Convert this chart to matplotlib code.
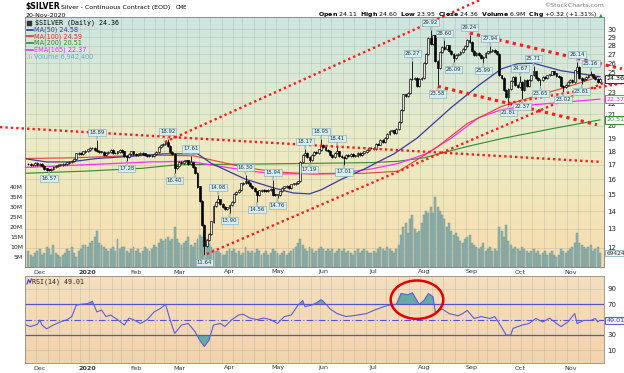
import numpy as np
import pandas as pd
import matplotlib
matplotlib.use("Agg")
import matplotlib.pyplot as plt
import matplotlib.transforms as mtransforms
from matplotlib.colors import LinearSegmentedColormap
from matplotlib.patches import Ellipse, Rectangle
from matplotlib.lines import Line2D
from matplotlib.ticker import FixedLocator, NullLocator

plt.rcParams['font.family'] = 'DejaVu Sans'

# ---- trading days (CME holidays removed) ----
holidays = ['2019-11-28', '2019-12-25', '2020-01-01', '2020-01-20', '2020-02-17',
            '2020-04-10', '2020-05-25', '2020-07-03', '2020-09-07']
dates = pd.bdate_range('2019-11-25', '2020-11-20')
dates = dates[~dates.isin(pd.to_datetime(holidays))]

# ---- daily closes ----
close_nov19 = [17.05, 16.95, 16.98, 17.10]
close_dec19 = [16.95, 17.05, 16.90, 16.72, 16.65, 16.62, 16.70, 16.85, 16.90, 16.95, 17.00,
               17.05, 17.05, 17.15, 17.20, 17.25, 17.40, 17.80, 17.85, 17.80, 17.95]
close_jan = [18.00, 18.10, 18.25, 18.20, 18.05, 18.00, 17.95, 17.90, 17.70, 17.85, 17.90,
             18.05, 17.85, 17.85, 17.95, 18.05, 17.95, 17.60, 17.55, 17.75, 17.95]
close_feb = [17.75, 17.70, 17.75, 17.85, 17.80, 17.70, 17.65, 17.60, 17.60, 17.75, 17.90,
             18.30, 18.45, 18.55, 18.65, 18.40, 17.90, 17.75, 16.75]
close_mar = [16.90, 17.20, 17.10, 17.25, 17.30, 17.05, 17.15, 16.85, 16.40, 15.50, 14.60,
             13.20, 12.10, 12.40, 12.70, 13.40, 14.30, 14.55, 14.70, 14.40, 14.25, 14.15]
close_apr = [14.20, 14.35, 14.55, 15.05, 15.15, 15.30, 15.70, 15.75, 15.85, 15.75, 15.55,
             15.40, 15.20, 14.95, 15.25, 15.30, 15.25, 15.20, 15.30, 15.35, 15.00]
close_may = [14.95, 15.00, 15.20, 15.40, 15.50, 15.55, 15.45, 15.65, 15.70, 15.75, 15.85,
             17.20, 17.70, 17.85, 17.55, 17.35, 17.70, 17.90, 17.85, 18.10]
close_jun = [18.45, 18.30, 18.05, 18.00, 17.70, 17.55, 17.85, 17.95, 17.60, 17.55, 17.45,
             17.70, 17.60, 17.75, 17.60, 17.65, 17.85, 17.70, 17.85, 17.95, 18.05, 18.20]
close_jul = [18.20, 18.15, 18.55, 18.50, 18.85, 18.70, 19.00, 19.30, 19.55, 19.60, 19.45,
             19.75, 20.35, 21.40, 22.80, 22.65, 22.95, 24.30, 24.35, 24.45, 23.60, 24.35]
close_aug = [24.40, 26.00, 27.00, 28.90, 28.20, 29.20, 26.20, 25.50, 27.20, 27.80, 27.60,
             28.00, 27.40, 27.00, 26.60, 26.90, 27.00, 27.20, 27.60, 27.90, 28.60]
close_sep = [28.40, 27.40, 26.90, 27.10, 26.90, 26.60, 26.70, 27.10, 27.30, 27.40, 27.50,
             27.30, 27.00, 24.70, 24.40, 23.20, 22.60, 23.30, 24.10, 24.50, 23.70]
close_oct = [23.50, 24.00, 23.20, 24.20, 23.60, 24.20, 24.70, 25.10, 24.40, 24.20, 24.20,
             24.50, 24.40, 24.70, 24.80, 25.10, 24.90, 24.60, 24.50, 23.60, 23.50, 23.70]
close_nov = [24.00, 24.20, 24.00, 25.20, 25.60, 24.40, 24.20, 24.30, 24.50, 24.70, 24.80,
             24.50, 24.30, 24.04, 24.36]

# ---- daily volume (millions) ----
vol_nov19 = [8, 6, 5, 7]
vol_dec19 = [8, 9, 6, 7, 10, 9, 6, 11, 7, 6, 5, 6, 7, 9, 8, 10, 7, 5, 8, 9, 11]
vol_jan = [11, 10, 12, 13, 15, 18, 12, 11, 10, 9, 8, 9, 10, 8, 14, 9, 10, 10, 8, 7, 9]
vol_feb = [10, 8, 9, 7, 8, 10, 9, 8, 9, 11, 10, 12, 14, 13, 14, 15, 13, 14, 20]
vol_mar = [14, 12, 11, 12, 13, 15, 11, 10, 12, 14, 16, 15, 18, 14, 12, 10, 9, 8, 8, 7, 6, 6]
vol_apr = [8, 9, 8, 9, 7, 8, 6, 7, 10, 8, 7, 8, 7, 9, 8, 6, 7, 8, 6, 7, 9]
vol_may = [8, 7, 6, 7, 8, 6, 7, 8, 9, 10, 12, 14, 11, 9, 8, 10, 9, 7, 8, 9]
vol_jun = [10, 9, 8, 9, 8, 9, 7, 8, 9, 8, 9, 7, 8, 7, 6, 8, 9, 7, 8, 9, 8, 7]
vol_jul = [7, 8, 7, 9, 10, 9, 8, 10, 9, 8, 7, 9, 11, 16, 20, 22, 17, 24, 26, 19, 17, 18]
vol_aug = [22, 26, 28, 27, 30, 27, 35, 30, 28, 26, 24, 20, 22, 18, 16, 17, 15, 13, 12, 14, 15]
vol_sep = [16, 12, 11, 10, 9, 10, 12, 8, 9, 10, 8, 9, 8, 20, 18, 15, 21, 13, 11, 9, 10]
vol_oct = [9, 8, 10, 9, 8, 7, 8, 9, 7, 8, 6, 7, 8, 6, 7, 8, 6, 5, 6, 9, 8, 7]
vol_nov = [8, 9, 10, 12, 17, 12, 11, 10, 9, 10, 11, 8, 9, 10, 6.94]

# ---- labelled highs / lows (trading-day index, value) ----
hi_idx = [30, 61, 71, 83, 95, 107, 121, 128, 135, 168, 176, 182, 193, 202, 215, 221, 240, 246]
hi_val = [18.89, 18.92, 17.61, 14.98, 16.30, 15.94, 18.17, 18.95, 18.41, 26.27, 29.92, 28.60,
          29.24, 27.94, 24.67, 25.71, 26.14, 25.16]
lo_idx = [9, 43, 64, 77, 88, 100, 109, 123, 138, 179, 186, 199, 210, 216, 224, 234, 242]
lo_val = [16.57, 17.28, 16.40, 11.64, 13.90, 14.56, 14.76, 17.19, 17.01, 23.58, 26.09, 25.99,
          21.81, 22.37, 23.65, 23.02, 23.81]

# ---- overlays (sparse readings) ----
ma50_idx = [-2, 8, 18, 30, 44, 60, 74, 80, 95, 108, 116, 123, 128, 137, 147, 160, 170, 185,
            197, 207, 214, 221, 233, 248, 250]
ma50_val = [17.45, 17.2, 17.2, 17.45, 17.6, 17.8, 17.8, 17.1, 16.0, 15.4, 15.1, 15.05, 15.3,
            16.0, 16.7, 17.8, 19.0, 21.6, 23.7, 25.4, 25.95, 26.0, 25.2, 24.65, 24.58]
ma100_idx = [-2, 20, 51, 72, 95, 108, 125, 147, 162, 178, 192, 207, 221, 235, 250]
ma100_val = [17.45, 17.5, 17.7, 17.65, 16.8, 16.5, 16.35, 16.4, 16.55, 18.2, 20.2, 21.7, 22.6,
             23.5, 24.59]
ma200_idx = [-2, 25, 50, 65, 100, 150, 162, 173, 192, 208, 230, 250]
ma200_val = [16.4, 16.55, 16.75, 17.0, 17.05, 17.15, 17.25, 17.5, 18.35, 19.0, 19.8, 20.51]
ema165_idx = [-2, 25, 53, 70, 95, 108, 135, 150, 162, 174, 185, 197, 207, 221, 235, 250]
ema165_val = [16.8, 17.0, 17.2, 17.25, 16.6, 16.35, 16.4, 16.7, 17.1, 17.8, 19.0, 20.7, 21.4,
              21.85, 22.1, 22.37]

# hand-drawn trend lines: start/end (index, price)
trend_x0 = [59.8, -12.4, 78.1, 193.1, 179.1, 209.8]
trend_p0 = [18.7, 19.9, 11.7, 29.5, 23.6, 22.0]
trend_x1 = [197.5, 250.9, 252.2, 259.6, 248.7, 259.6]
trend_p1 = [33.87, 17.2, 24.0, 25.4, 20.1, 23.9]
trend_bold = [False, False, False, True, True, False]

rsi_idx = [-1, 1, 4, 5, 6, 8, 11, 14, 17, 19, 21, 23, 26, 28, 30, 32, 34, 36, 39, 42, 44, 46,
           49, 52, 55, 58, 60, 62, 64, 67, 70, 73, 75, 77, 79, 81, 84, 86, 89, 92, 94, 97, 100,
           103, 106, 109, 112, 115, 118, 120, 121, 124, 126, 128, 129, 132, 135, 139, 144, 148,
           151, 155, 158, 161, 163, 166, 168, 169, 171, 173, 175, 177, 178, 181, 184, 188, 190,
           192, 195, 198, 202, 204, 206, 209, 211, 212, 216, 219, 222, 225, 228, 231, 233, 236,
           239, 240, 243, 246, 248, 249, 250]
rsi_val = [43, 41, 44, 49.5, 43, 38, 43, 47, 50, 54, 69, 70, 71, 74, 60, 62.6, 54, 56, 50, 43,
           52, 50, 45, 50, 60, 65, 70, 50, 32, 43, 45, 34, 23, 15, 23, 43, 45, 41, 50, 56, 57,
           52, 50, 52, 50, 45, 54, 56, 69, 75, 67, 69, 72, 76, 74, 64, 58, 54, 56, 58, 62, 66.5,
           69, 70, 84, 82.5, 85, 80, 70, 75, 84, 80, 60, 64, 58, 55, 58, 62, 51.5, 54, 51.5, 54,
           45, 30, 30, 38.6, 43, 45, 51.5, 47, 52, 45, 41, 47, 58, 45, 49, 49, 51.5, 47, 49.01]

price_ticks = list(range(12, 31))
vol_ticks = [5, 10, 15, 20, 25, 30, 35, 40]
rsi_ticks = [10, 30, 70, 90]

close = np.array(close_nov19 + close_dec19 + close_jan + close_feb + close_mar + close_apr +
                 close_may + close_jun + close_jul + close_aug + close_sep + close_oct + close_nov)
volume = np.array(vol_nov19 + vol_dec19 + vol_jan + vol_feb + vol_mar + vol_apr + vol_may +
                  vol_jun + vol_jul + vol_aug + vol_sep + vol_oct + vol_nov) * 1e6
assert len(close) == len(dates) == len(volume), (len(close), len(dates), len(volume))
x = np.arange(len(close))

month_first = [k for k in range(1, len(dates)) if dates[k].month != dates[k - 1].month]
month_lab = ['2020' if dates[k].month == 1 else dates[k].strftime('%b') for k in month_first]
week_first = [k for k in range(1, len(dates))
              if dates[k].isocalendar()[1] != dates[k - 1].isocalendar()[1]]

# ---- layout ----
W, H = 624, 373
def fx(px): return px / W
def fy(py): return 1 - py / H

fig = plt.figure(figsize=(6.24, 3.73), dpi=100)
rect_p = [fx(25), fy(267), 579 / W, 250 / H]
rect_r = [fx(25), fy(363), 579 / W, 87 / H]
xlim = (-1.45, 251.8)
p_lo, p_hi = 11.08, 31.55

def background(rect, colors):
    a = fig.add_axes(rect, zorder=0)
    cmap = LinearSegmentedColormap.from_list('bg', colors)
    a.imshow(np.linspace(0, 1, 256).reshape(-1, 1), cmap=cmap, aspect='auto', extent=[0, 1, 0, 1])
    a.set_axis_off()

background(rect_p, ['#cce5e0', '#dbe9d5', '#ebebc6', '#f3e5b8', '#f6dcb0'])
background(rect_r, ['#f5dfbf', '#f2d3ac'])

gridc = dict(color='#8e9c96', alpha=0.35, lw=0.5)

# grid layer for price panel
ax_g = fig.add_axes(rect_p, zorder=0.5)
ax_g.set_xlim(xlim)
ax_g.set_yscale('log')
ax_g.set_ylim(p_lo, p_hi)
for k in week_first:
    ax_g.axvline(k - 0.5, **gridc)
for t in price_ticks:
    ax_g.axhline(t, **gridc)
ax_g.set_axis_off()

# volume
ax_v = fig.add_axes(rect_p, zorder=1)
ax_v.patch.set_visible(False)
ax_v.bar(x, volume, width=0.85, color='#93b3ad', edgecolor='#6f918c', lw=0.3)
ax_v.set_xlim(xlim)
ax_v.set_ylim(0, 125e6)
ax_v.yaxis.set_major_locator(FixedLocator([v * 1e6 for v in vol_ticks]))
ax_v.set_yticklabels([f'{v}M' for v in vol_ticks])
ax_v.set_xticks([k + 1 for k in month_first])
ax_v.set_xticklabels(month_lab)
ax_v.tick_params(axis='y', length=0, labelsize=4.4, pad=1.5, colors='#222')
ax_v.tick_params(axis='x', length=0, labelsize=4.6, pad=1.8, colors='#333')
for lab in ax_v.get_xticklabels():
    if lab.get_text() == '2020':
        lab.set_fontweight('bold')

# price
ax_p = ax_v.twinx()
ax_p.set_zorder(2)
ax_p.patch.set_visible(False)
ax_p.set_yscale('log')
ax_p.set_ylim(p_lo, p_hi)
ax_p.set_xlim(xlim)
ax_p.yaxis.set_major_locator(FixedLocator(price_ticks))
ax_p.yaxis.set_minor_locator(NullLocator())
ax_p.set_yticklabels([str(t) for t in price_ticks])
ax_p.tick_params(axis='y', length=0, labelsize=5, pad=2.5, colors='#222')

for a in (ax_v, ax_p):
    for s in a.spines.values():
        s.set_color('#8c8c8c')
        s.set_linewidth(0.6)

# candles
wick = 0.004
opn = np.r_[close[0], close[:-1]]
high = np.maximum(opn, close) * (1 + wick)
low = np.minimum(opn, close) * (1 - wick)
high[hi_idx] = hi_val
low[lo_idx] = lo_val
up = close >= opn
ax_p.vlines(x, low, high, color='black', lw=0.6, zorder=3)
ax_p.bar(x[up], (close - opn)[up] + 0.02, bottom=opn[up], width=0.8, color='#e6e6da',
         edgecolor='black', lw=0.45, zorder=4)
ax_p.bar(x[~up], (opn - close)[~up] + 0.02, bottom=close[~up], width=0.8, color='black',
         edgecolor='black', lw=0.45, zorder=4)

# moving averages
ax_p.plot(ma200_idx, ma200_val, color='#2e8b2e', lw=0.8, zorder=2)
ax_p.plot(ema165_idx, ema165_val, color='#ff2eff', lw=0.9, zorder=2)
ax_p.plot(ma100_idx, ma100_val, color='#e8412c', lw=0.8, zorder=2)
ax_p.plot(ma50_idx, ma50_val, color='#3a3aa0', lw=0.9, zorder=2)

# trend lines
for x0, p0, x1, p1, bold in zip(trend_x0, trend_p0, trend_x1, trend_p1, trend_bold):
    ax_p.plot([x0, x1], [p0, p1], color='#ff1a1a', lw=2.3 if bold else 1.7,
              ls=(0, (1, 1.3)), clip_on=False, zorder=5)

# high/low labels
lab_fc, lab_ec = '#d3edf0', '#7fa6b3'
def point_label(k, v, above):
    ax_p.annotate(f'{v:.2f}', xy=(k, v), xytext=(0, 3.5 if above else -3.5),
                  textcoords='offset points', ha='center', va='bottom' if above else 'top',
                  fontsize=3.9, color='#333',
                  bbox=dict(boxstyle='square,pad=0.2', fc=lab_fc, ec=lab_ec, lw=0.4),
                  arrowprops=dict(arrowstyle='wedge,tail_width=0.3,shrink_factor=0.5',
                                  fc=lab_fc, ec=lab_ec, lw=0.4, shrinkA=0, shrinkB=0),
                  zorder=7, annotation_clip=False)
for k, v in zip(hi_idx, hi_val):
    point_label(k, v, True)
for k, v in zip(lo_idx, lo_val):
    point_label(k, v, False)

# right-hand value boxes
tr_p = mtransforms.blended_transform_factory(ax_p.transAxes, ax_p.transData)
def value_box(ax, tr, v, txt, ec, tc, fc='white', size=4.6):
    ax.text(1.004, v, txt, transform=tr, ha='left', va='center', fontsize=size, color=tc,
            bbox=dict(boxstyle='square,pad=0.2', fc=fc, ec=ec, lw=0.7), zorder=10,
            clip_on=False)
value_box(ax_p, tr_p, 24.36, '24.36', '#2b2b70', 'black')
value_box(ax_p, tr_p, 22.37, '22.37', '#ff33ff', '#ee22ee')
value_box(ax_p, tr_p, 20.51, '20.51', '#2e8b2e', '#2e8b2e')
tr_v = mtransforms.blended_transform_factory(ax_v.transAxes, ax_v.transData)
ax_v.text(1.004, 6.94e6, '69424', transform=tr_v, ha='left', va='center', fontsize=4.2,
          color='#333', bbox=dict(boxstyle='square,pad=0.15', fc='#eaf4f4', ec='#7fa6b3', lw=0.5),
          zorder=10, clip_on=False)

# ---- RSI panel ----
ax_r = fig.add_axes(rect_r, zorder=1)
ax_r.patch.set_visible(False)
ax_r.set_xlim(xlim)
ax_r.set_ylim(-6.5, 106.9)
for k in week_first:
    ax_r.axvline(k - 0.5, zorder=0, **gridc)
for t in (10, 90):
    ax_r.axhline(t, zorder=0, **gridc)
rsi_x = np.array(rsi_idx, float)
rsi_y = np.array(rsi_val, float)
ax_r.fill_between(rsi_x, 70, rsi_y, where=rsi_y >= 70, interpolate=True, color='#66aaa2', lw=0)
ax_r.fill_between(rsi_x, 30, rsi_y, where=rsi_y <= 30, interpolate=True, color='#66aaa2', lw=0)
ax_r.axhline(70, color='#5656c8', lw=0.9)
ax_r.axhline(30, color='#5656c8', lw=0.9)
ax_r.axhline(50, color='#5656c8', lw=0.8, ls=(0, (6, 2, 1, 2)))
ax_r.plot(rsi_x, rsi_y, color='#5c5cdc', lw=0.8)
ax_r.add_patch(Ellipse((170, 76), width=23, height=50, fill=False, ec='#e00000', lw=1.8,
                       zorder=6))
ax_r.yaxis.tick_right()
ax_r.yaxis.set_major_locator(FixedLocator(rsi_ticks))
ax_r.set_yticklabels([str(t) for t in rsi_ticks])
ax_r.set_xticks([k + 1 for k in month_first])
ax_r.set_xticklabels(month_lab)
ax_r.tick_params(axis='y', length=0, labelsize=5, pad=2.5, colors='#222')
ax_r.tick_params(axis='x', length=0, labelsize=4.6, pad=1.8, colors='#333')
for lab in ax_r.get_xticklabels():
    if lab.get_text() == '2020':
        lab.set_fontweight('bold')
for s in ax_r.spines.values():
    s.set_color('#8c8c8c')
    s.set_linewidth(0.6)
tr_r = mtransforms.blended_transform_factory(ax_r.transAxes, ax_r.transData)
value_box(ax_r, tr_r, 49.01, '49.01', '#5656c8', '#4444bb', fc='#eef0ff')

# ---- header text ----
fig.text(fx(25), fy(7), r'\$SILVER', fontsize=5.6, fontweight='bold', va='center')
fig.text(fx(61), fy(7.5), 'Silver - Continuous Contract (EOD)', fontsize=4.5, va='center')
fig.text(fx(176), fy(7.5), 'CME', fontsize=3.8, va='center')
fig.text(fx(25), fy(15.5), '20-Nov-2020', fontsize=4.5, va='center')
fig.text(fx(604), fy(5.5), '\u00a9StockCharts.com', fontsize=4.5, color='#777', ha='right',
         va='center')
fig.text(fx(597), fy(14.5),
         r'$\mathbf{Open}$ 24.11  $\mathbf{High}$ 24.60  $\mathbf{Low}$ 23.95  '
         r'$\mathbf{Close}$ 24.36  $\mathbf{Volume}$ 6.9M  $\mathbf{Chg}$ +0.32 (+1.31%)',
         fontsize=4.5, ha='right', va='center')
fig.text(fx(603), fy(14.5), '\u25b2', fontsize=3.5, color='#2a9a2a', ha='right', va='center')

# legend inside price panel
fig.add_artist(Rectangle((fx(27), fy(26)), 5 / W, 5 / H, transform=fig.transFigure,
                         fc='#333', ec='#333', lw=0.3))
fig.text(fx(35), fy(23), r'\$SILVER (Daily) 24.36', fontsize=4.8, family='DejaVu Sans Mono',
         va='center')
legend_rows = [('MA(50) 24.58', '#2f3aa8', 29.5), ('MA(100) 24.59', '#e23030', 36.3),
               ('MA(200) 20.51', '#2a8a2a', 43.1), ('EMA(165) 22.37', '#f02cf0', 49.9)]
for txt, col, yy in legend_rows:
    fig.add_artist(Line2D([fx(27), fx(33)], [fy(yy), fy(yy)], color=col, lw=1.2,
                          transform=fig.transFigure))
    fig.text(fx(34), fy(yy), txt, fontsize=4.7, color=col, va='center')
for k, hgt in enumerate([2, 4, 3]):
    fig.add_artist(Rectangle((fx(27 + 2 * k), fy(59)), 1.4 / W, hgt / H,
                             transform=fig.transFigure, fc='#b8c8a0', lw=0))
fig.text(fx(34), fy(56.7), 'Volume 6,942,400', fontsize=4.7, color='#62a8d0', va='center')

# RSI title
fig.add_artist(Line2D([fx(27), fx(28.5), fx(30), fx(31.5)], [fy(284), fy(279.5), fy(283), fy(279)],
                      color='#3a3ad0', lw=0.8, transform=fig.transFigure))
fig.text(fx(32), fy(281.5), 'RSI(14) 49.01', fontsize=4.8, family='DejaVu Sans Mono',
         va='center', color='#222')

fig.savefig('out.png', dpi=100)
